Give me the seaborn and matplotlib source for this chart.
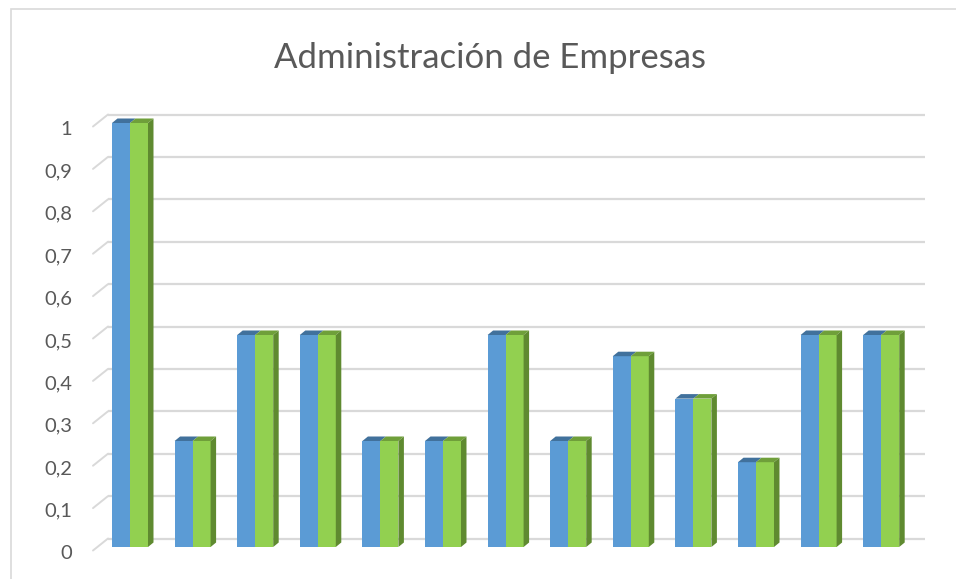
import pandas as pd
import matplotlib
matplotlib.use('Agg')
import matplotlib.pyplot as plt
import seaborn as sns
from matplotlib.patches import Polygon, Rectangle
from matplotlib.transforms import ScaledTranslation

# Datos del gráfico
categorias = [str(i) for i in range(1, 14)]
serie_1 = [1, 0.25, 0.5, 0.5, 0.25, 0.25, 0.5, 0.25, 0.45, 0.35, 0.2, 0.5, 0.5]
serie_2 = [1, 0.25, 0.5, 0.5, 0.25, 0.25, 0.5, 0.25, 0.45, 0.35, 0.2, 0.5, 0.5]
nombres_series = ['Serie 1', 'Serie 2']
ticks_y = [0, 0.1, 0.2, 0.3, 0.4, 0.5, 0.6, 0.7, 0.8, 0.9, 1]
etiquetas_y = ['0', '0,1', '0,2', '0,3', '0,4', '0,5', '0,6', '0,7', '0,8', '0,9', '1']
titulo = 'Administración de Empresas'

colores = {'Serie 1': '#5B9BD5', 'Serie 2': '#92D050'}
colores_sup = {'Serie 1': '#41719C', 'Serie 2': '#6F9F3A'}
color_lado = '#5F8A30'
gris = '#D9D9D9'
texto = '#595959'

df = pd.DataFrame({
    'categoria': categorias * 2,
    'valor': serie_1 + serie_2,
    'serie': [nombres_series[0]] * len(categorias) + [nombres_series[1]] * len(categorias),
})

sns.set_style('white')
plt.rcParams['font.family'] = ['Lato', 'DejaVu Sans']

W, H = 956, 579
fig = plt.figure(figsize=(W / 100, H / 100), dpi=100)
ax_l, ax_r, ax_b, ax_t = 93, 925, 547, 123
ax = fig.add_axes([ax_l / W, (H - ax_b) / H, (ax_r - ax_l) / W, (ax_b - ax_t) / H])

sns.barplot(data=df, x='categoria', y='valor', hue='serie', order=categorias,
            hue_order=nombres_series, palette=colores, width=0.575,
            saturation=1, legend=False, ax=ax, zorder=3)

px_x = 62.6
xmin = (ax_l - 130) / px_x
ax.set_xlim(xmin, xmin + (ax_r - ax_l) / px_x)
ax.set_ylim(0, 1)
px_y = ax_b - ax_t

# efecto 3D: cara superior y lateral
dx, dy = 5.5 / px_x, 4.5 / px_y
for cont, nombre in zip(ax.containers, nombres_series):
    for bar in cont:
        x0 = bar.get_x()
        x1 = x0 + bar.get_width()
        h = bar.get_height()
        bar.set_edgecolor('none')
        ax.add_patch(Polygon([(x0, h), (x1, h), (x1 + dx, h + dy), (x0 + dx, h + dy)],
                             closed=True, facecolor=colores_sup[nombre],
                             edgecolor='none', zorder=4, clip_on=False))
        if nombre == nombres_series[-1]:
            ax.add_patch(Polygon([(x1, 0), (x1 + dx, dy), (x1 + dx, h + dy), (x1, h)],
                                 closed=True, facecolor=color_lado,
                                 edgecolor='none', zorder=4, clip_on=False))

# rejilla en el plano del fondo
tr = ax.get_yaxis_transform()
g0 = (108 - ax_l) / (ax_r - ax_l)
for v in ticks_y:
    ax.plot([g0, 1.0], [v + 8.5 / px_y, v + 8.5 / px_y], transform=tr, color=gris,
            lw=1.6, zorder=0, clip_on=False, solid_capstyle='butt')
    ax.plot([0, g0], [v - 3.5 / px_y, v + 8.5 / px_y], transform=tr, color=gris,
            lw=1.4, zorder=0, clip_on=False)

ax.set_yticks(ticks_y, etiquetas_y)
ax.set_xticks([])
ax.tick_params(axis='y', length=0, pad=15, labelsize=14.5, labelcolor=texto)
for lbl in ax.get_yticklabels():
    lbl.set_transform(lbl.get_transform() + ScaledTranslation(0, -5 / 100, fig.dpi_scale_trans))
ax.set_xlabel('')
ax.set_ylabel('')
sns.despine(ax=ax, left=True, bottom=True)

fig.text(490.5 / W, 1 - 68 / H, titulo, ha='center', va='baseline', fontsize=25, color=texto)

# borde del área del gráfico
fig.patches.append(Rectangle((11 / W, -0.1), 1.2, 1.1 - 9 / H, transform=fig.transFigure,
                             fill=False, edgecolor=gris, lw=1.2))

fig.savefig('out.png', dpi=100)
